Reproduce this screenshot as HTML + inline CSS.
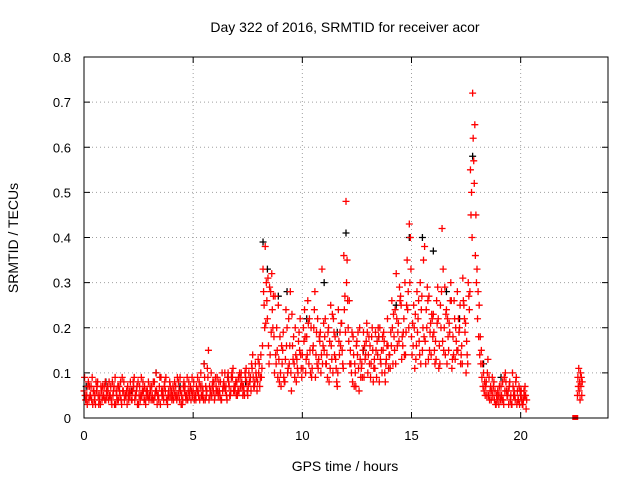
<!DOCTYPE html>
<html><head><meta charset="utf-8"><style>
body{margin:0;background:#fff}
svg text{font-family:"Liberation Sans",sans-serif;font-size:13px;fill:#000}
</style></head><body>
<svg id="chart" width="640" height="480">
<rect width="640" height="480" fill="#fff"/>
<g id="grid"></g><g id="marks"></g><g id="axes"></g>
<text x="345" y="32" text-anchor="middle" style="font-size:14px">Day 322 of 2016, SRMTID for receiver acor</text>
<text x="345" y="471" text-anchor="middle" style="font-size:14px">GPS time / hours</text>
<text transform="translate(18,238) rotate(-90)" text-anchor="middle" style="font-size:14px">SRMTID / TECUs</text>
</svg>
<script>
const xTicks=[0,5,10,15,20];
const yTicks=[0,0.1,0.2,0.3,0.4,0.5,0.6,0.7,0.8];
const yTickLabels=["0","0.1","0.2","0.3","0.4","0.5","0.6","0.7","0.8"];
const redA=[.06,.04,.08,.05,.03,.05,.07,.04,.06,.05,.04,.06,.05,.08,.03,.05,.07,.04,.06,.05,.07,.05,.04,.09,.06,.03,.05,.08,.04,.06,.05,.07,.04,.10,.05,.03,.06,.08,.04,.05,.06,.04,.07,.05,.09,.03,.06,.05,.08,.04,.06,.05,.09,.04,.07,.12,.05,.15,.06,.08,.05,.09,.06,.04,.08,.07,.10,.05,.09,.06,.08,.06,.10,.07,.09,.05,.08,.11,.07,.09,.10,.14,.33,.38,.22,.29,.32,.18,.12,.25,.10,.15,.08,.20,.12,.06,.18,.14,.10,.22,.14,.24,.18,.12,.20,.16,.09,.22,.17,.33,.15,.12,.20,.25,.10,.18,.07,.14,.21,.36,.48,.20,.15,.08,.12,.17,.06,.11,.19,.14,.10,.16,.20,.13,.09,.18,.12,.15,.08,.22,.14,.26,.18,.32,.21,.27,.16,.30,.35,.43,.18,.25,.13,.22,.30,.15,.38,.20,.27,.14,.23,.17,.29,.12,.42,.20,.24,.15,.30,.18,.13,.28,.20,.16,.25,.10,.30,.55,.72,.65,.33,.25,.15,.10,.07,.13,.06,.09,.04,.05,.03,.07,.04,.10,.05,.08,.03,.06,.09,.04,.05,.03,.07];
const redB=[.05,.03,.07,.04,.06,.08,.05,.03,.07,.04,.05,.08,.04,.06,.03,.07,.05,.09,.04,.06,.04,.06,.08,.05,.03,.07,.05,.04,.06,.08,.06,.04,.05,.03,.07,.06,.04,.09,.05,.07,.05,.08,.04,.06,.03,.07,.05,.04,.06,.09,.04,.07,.05,.10,.06,.04,.11,.07,.05,.08,.07,.05,.08,.06,.10,.04,.07,.09,.06,.08,.06,.09,.07,.05,.08,.10,.06,.09,.12,.08,.07,.11,.25,.30,.16,.28,.20,.27,.15,.08,.16,.09,.24,.11,.28,.16,.09,.13,.19,.11,.20,.10,.26,.15,.11,.24,.19,.13,.10,.16,.22,.09,.17,.13,.19,.11,.24,.16,.12,.27,.35,.26,.10,.14,.07,.19,.13,.09,.16,.21,.18,.12,.08,.19,.14,.20,.10,.17,.13,.11,.19,.12,.24,.16,.29,.13,.22,.19,.28,.40,.21,.11,.28,.17,.24,.35,.12,.26,.19,.22,.15,.26,.11,.20,.33,.14,.22,.19,.11,.26,.17,.22,.12,.31,.19,.14,.24,.50,.57,.45,.28,.18,.12,.08,.05,.09,.04,.07,.03,.06,.05,.04,.09,.06,.03,.05,.07,.04,.06,.03,.04,.06,.02];
const redC=[.09,.05,.04,.07,.06,.03,.08,.05,.04,.07,.06,.04,.07,.05,.09,.04,.06,.03,.08,.05,.05,.08,.06,.04,.07,.05,.09,.06,.03,.05,.07,.05,.08,.06,.04,.09,.05,.06,.03,.08,.04,.06,.05,.08,.06,.04,.07,.09,.05,.06,.08,.04,.06,.07,.05,.09,.06,.04,.10,.06,.09,.06,.05,.10,.07,.05,.08,.06,.11,.07,.05,.10,.08,.06,.11,.07,.09,.14,.08,.06,.12,.09,.28,.21,.31,.14,.24,.10,.20,.13,.07,.19,.13,.10,.16,.23,.12,.08,.17,.14,.11,.18,.14,.22,.09,.20,.14,.11,.19,.12,.18,.14,.08,.16,.22,.13,.10,.19,.15,.24,.30,.17,.12,.18,.10,.14,.20,.12,.09,.17,.14,.09,.15,.11,.17,.08,.15,.19,.12,.16,.11,.20,.15,.22,.17,.25,.19,.14,.24,.30,.14,.20,.16,.26,.12,.20,.17,.29,.15,.23,.19,.13,.22,.25,.17,.29,.12,.21,.26,.14,.20,.15,.25,.12,.22,.17,.27,.45,.62,.36,.22,.14,.09,.06,.08,.05,.07,.05,.06,.04,.07,.05,.03,.08,.06,.04,.10,.05,.03,.07,.06,.04,.05];
const redD=[.04,.07,.05,.09,.04,.06,.03,.07,.05,.08,.07,.05,.03,.07,.06,.04,.08,.06,.05,.03,.06,.04,.07,.05,.08,.04,.06,.07,.05,.04,.04,.08,.06,.05,.09,.05,.07,.04,.06,.05,.07,.05,.09,.04,.05,.08,.04,.06,.07,.05,.05,.06,.08,.05,.04,.07,.09,.05,.07,.04,.06,.08,.04,.07,.06,.09,.05,.10,.07,.05,.09,.07,.05,.10,.06,.08,.12,.07,.10,.13,.09,.16,.20,.26,.12,.19,.27,.14,.09,.18,.12,.08,.16,.22,.10,.13,.20,.11,.15,.09,.17,.13,.21,.10,.15,.28,.12,.18,.14,.21,.12,.19,.11,.23,.14,.08,.17,.21,.11,.19,.26,.12,.19,.07,.16,.11,.09,.15,.13,.19,.12,.18,.11,.15,.20,.13,.18,.10,.16,.14,.16,.23,.12,.19,.26,.18,.14,.25,.20,.33,.16,.23,.19,.14,.27,.18,.24,.13,.21,.18,.12,.21,.16,.28,.15,.23,.18,.26,.13,.22,.15,.19,.14,.26,.21,.12,.28,.40,.52,.30,.18,.12,.07,.05,.10,.04,.06,.08,.03,.05,.04,.08,.06,.05,.07,.03,.05,.08,.04,.06,.03,.05,.04];
const lateT=[22.60,22.62,22.64,22.66,22.68,22.70,22.72,22.74,22.76,22.78,22.80,22.82];
const lateV=[.05,.09,.07,.11,.06,.08,.04,.10,.07,.09,.05,.08];
const blackT=[0.1,1.0,2.2,3.3,4.4,5.5,6.6,7.4,8.2,8.4,8.9,9.3,10.2,11.0,11.6,12.0,12.8,13.5,14.3,14.9,15.5,16.0,16.6,17.2,17.8,18.3,19.1,20.0];
const blackV=[.07,.08,.06,.10,.07,.12,.09,.08,.39,.33,.27,.28,.22,.30,.19,.41,.15,.18,.25,.40,.40,.37,.28,.22,.58,.12,.09,.05];
const zeroT=[22.5];
const zeroV=[0];
const X0=84,X1=608,Y0=418,Y1=57;
const xs=t=>X0+(X1-X0)*t/24;
const ys=v=>Y0-(Y0-Y1)*v/0.8;
const NS="http://www.w3.org/2000/svg";
function mk(tag,attrs,parent){const e=document.createElementNS(NS,tag);for(const k in attrs)e.setAttribute(k,attrs[k]);parent.appendChild(e);return e;}
const grid=document.getElementById('grid'),axes=document.getElementById('axes'),marks=document.getElementById('marks');
xTicks.forEach(t=>{const x=xs(t);
 if(t>0){const g=mk('line',{x1:x,x2:x,y1:Y0,y2:Y1,stroke:'#a0a0a0','stroke-dasharray':'1,3'},grid);
 }
 mk('line',{x1:x,x2:x,y1:Y0,y2:Y0-6,stroke:'#000'},axes);mk('line',{x1:x,x2:x,y1:Y1,y2:Y1+6,stroke:'#000'},axes);
 const l=mk('text',{x:x,y:Y0+22,'text-anchor':'middle'},axes);l.textContent=t;
 });
yTicks.forEach((v,i)=>{const y=ys(v);
 if(v>0&&v<0.8){const g=mk('line',{x1:X0,x2:X1,y1:y,y2:y,stroke:'#a0a0a0','stroke-dasharray':'1,3'},grid);
 }
 mk('line',{x1:X0,x2:X0+6,y1:y,y2:y,stroke:'#000'},axes);mk('line',{x1:X1,x2:X1-6,y1:y,y2:y,stroke:'#000'},axes);
 const l=mk('text',{x:X0-13,y:y+5,'text-anchor':'end'},axes);l.textContent=yTickLabels[i];
 });
const frame=mk('rect',{x:X0,y:Y1,width:X1-X0,height:Y0-Y1,fill:'none',stroke:'#000'},axes);

function plus(t,v,c,name){const x=xs(t),y=ys(v);
 const p=mk('path',{d:`M${x-3.5},${y}h7M${x},${y-3.5}v7`,stroke:c,'stroke-width':1.3,fill:'none'},marks);
 }
blackT.forEach((t,i)=>plus(t,blackV[i],'#000','black-point'));
redA.forEach((v,i)=>plus(i*0.1,v,'#f00','red-point'));
redC.forEach((v,i)=>plus(i*0.1+0.025,v,'#f00','red-point'));
redB.forEach((v,i)=>plus(i*0.1+0.05,v,'#f00','red-point'));
redD.forEach((v,i)=>plus(i*0.1+0.075,v,'#f00','red-point'));
lateT.forEach((t,i)=>plus(t,lateV[i],'#f00','red-point'));
zeroT.forEach((t,i)=>{const r=mk('rect',{x:xs(t)-3,y:ys(zeroV[i])-3,width:6,height:5,fill:'#f00'},marks);
 });
</script>
</body></html>
